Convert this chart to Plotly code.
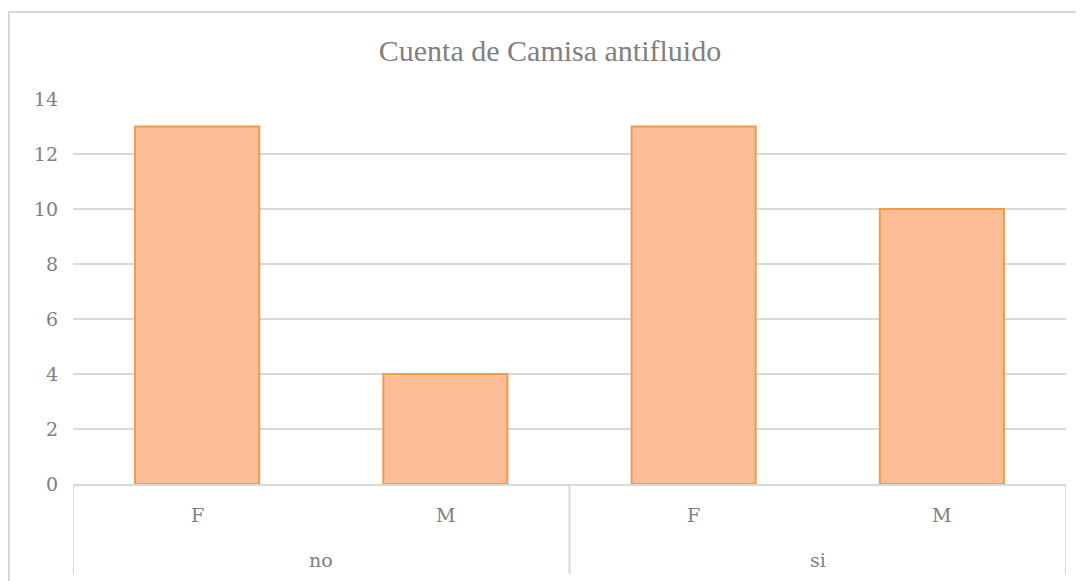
import plotly.graph_objects as go

groups = ["no", "no", "si", "si"]
genders = ["F", "M", "F", "M"]
counts = [13, 4, 13, 10]
y_ticks = [0, 2, 4, 6, 8, 10, 12, 14]
title_text = "Cuenta de Camisa antifluido"

W, H = 1084, 581
L, T, PW, PH = 65, 91, 993, 385
R, B = W - L - PW, H - T - PH

grid = "#D9D9D9"
text_col = "#808080"
tick_font = dict(family="DejaVu Serif", size=19, color=text_col)

keys = [f"{g}|{s}" for g, s in zip(groups, genders)]

fig = go.Figure()
fig.add_trace(go.Bar(
    x=keys, y=counts,
    width=0.5,
    marker=dict(color="#FBBE97", line=dict(color="#F29A4C", width=2)),
    hovertext=[f"{g} {s}" for g, s in zip(groups, genders)],
    hoverinfo="text+y",
))

annotations = []
for k, s in zip(keys, genders):
    annotations.append(dict(x=k, xref="x", y=-31 / PH, yref="paper", text=s,
                            showarrow=False, font=tick_font, xanchor="center", yanchor="middle"))
unique_groups = []
for g in groups:
    if g not in unique_groups:
        unique_groups.append(g)
for g in unique_groups:
    idx = [i for i, gg in enumerate(groups) if gg == g]
    annotations.append(dict(x=sum(idx) / len(idx), xref="x", y=-76 / PH, yref="paper", text=g,
                            showarrow=False, font=tick_font, xanchor="center", yanchor="middle"))

bounds = [-0.5]
for i in range(1, len(groups)):
    if groups[i] != groups[i - 1]:
        bounds.append(i - 0.5)
bounds.append(len(groups) - 0.5)

shapes = [dict(type="line", xref="x", yref="paper", x0=b, x1=b, y0=0, y1=-90 / PH,
               line=dict(color=grid, width=2)) for b in bounds]
shapes.append(dict(type="rect", xref="paper", yref="paper",
                   x0=(1 - L) / PW, x1=(W + 20 - L) / PW,
                   y0=-(B + 20) / PH, y1=1 + (T - 4) / PH,
                   line=dict(color=grid, width=2), fillcolor="rgba(0,0,0,0)", layer="below"))

fig.update_layout(
    width=W, height=H,
    margin=dict(l=L, r=R, t=T, b=B, autoexpand=False),
    paper_bgcolor="white", plot_bgcolor="white",
    showlegend=False,
    title=dict(text=title_text, x=0.5, xanchor="center", y=1 - 42 / H, yanchor="middle",
               font=dict(family="Liberation Serif", size=30, color=text_col)),
    font=tick_font,
    xaxis=dict(type="category", showline=True, linecolor=grid, linewidth=2,
               showticklabels=False, ticks="", showgrid=False, zeroline=False,
               range=[-0.5, len(keys) - 0.5], automargin=False),
    yaxis=dict(range=[0, 14], tickvals=y_ticks, showgrid=True, gridcolor=grid, gridwidth=2,
               zeroline=False, showline=False, ticks="", ticklabelstandoff=14,
               tickfont=tick_font, automargin=False),
    annotations=annotations,
    shapes=shapes,
)

fig.write_html("out.html")
